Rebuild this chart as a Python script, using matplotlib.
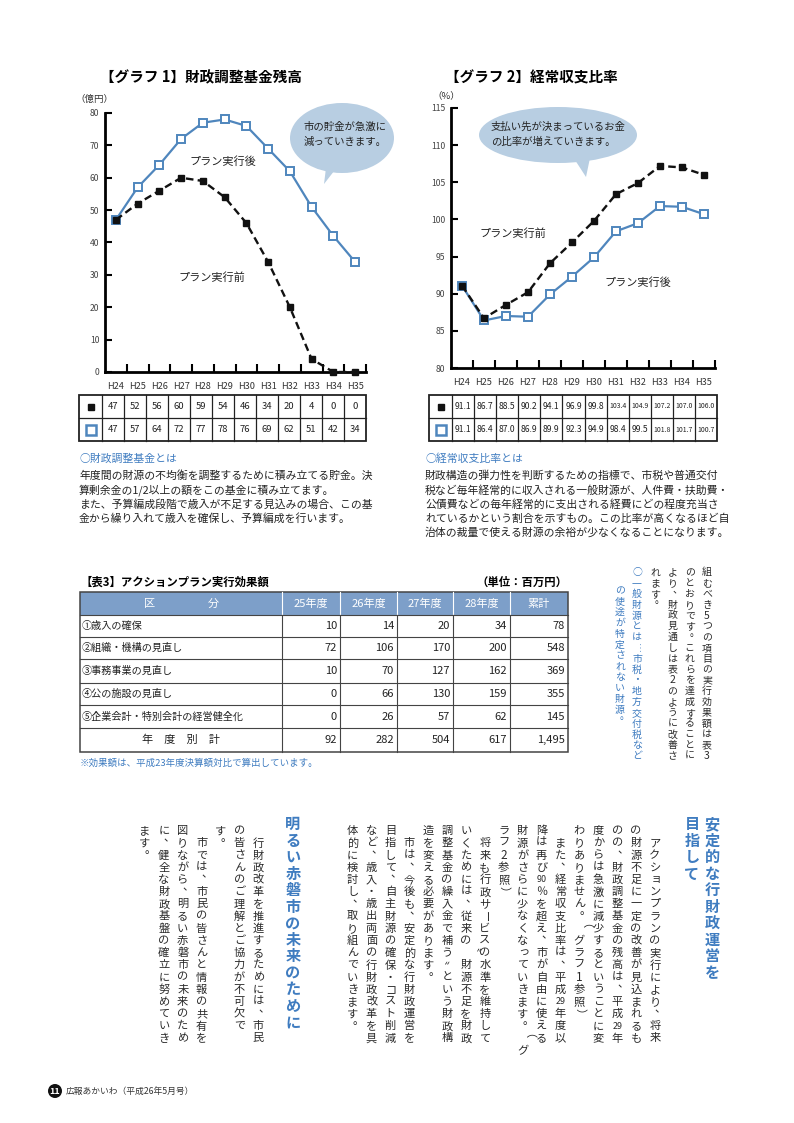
import numpy as np
import matplotlib.pyplot as plt
from matplotlib.patches import Ellipse, Polygon, Rectangle, Circle

plt.rcParams['font.family'] = ['Noto Sans CJK JP', 'DejaVu Sans']

W, H = 794, 1123
BLUE = '#4f86bd'
BLUE_TXT = '#3f7cc0'
BUBBLE = '#b8cee2'
HEAD = '#7d9fc9'

# ---- data ----
years = ['H24', 'H25', 'H26', 'H27', 'H28', 'H29', 'H30', 'H31', 'H32', 'H33', 'H34', 'H35']
fund_before = [47, 52, 56, 60, 59, 54, 46, 34, 20, 4, 0, 0]
fund_after = [47, 57, 64, 72, 77, 78, 76, 69, 62, 51, 42, 34]
ratio_before = [91.1, 86.7, 88.5, 90.2, 94.1, 96.9, 99.8, 103.4, 104.9, 107.2, 107.0, 106.0]
ratio_after = [91.1, 86.4, 87.0, 86.9, 89.9, 92.3, 94.9, 98.4, 99.5, 101.8, 101.7, 100.7]

t3_cats = ['①歳入の確保', '②組織・機構の見直し', '③事務事業の見直し',
           '④公の施設の見直し', '⑤企業会計・特別会計の経営健全化']
t3_years = ['25年度', '26年度', '27年度', '28年度']
t3_vals = [[10, 14, 20, 34],
           [72, 106, 170, 200],
           [10, 70, 127, 162],
           [0, 66, 130, 159],
           [0, 26, 57, 62]]

fund_note = ['年度間の財源の不均衡を調整するために積み立てる貯金。決',
             '算剰余金の1/2以上の額をこの基金に積み立てます。',
             'また、予算編成段階で歳入が不足する見込みの場合、この基',
             '金から繰り入れて歳入を確保し、予算編成を行います。']
ratio_note = ['財政構造の弾力性を判断するための指標で、市税や普通交付',
              '税など毎年経常的に収入される一般財源が、人件費・扶助費・',
              '公債費などの毎年経常的に支出される経費にどの程度充当さ',
              'れているかという割合を示すもの。この比率が高くなるほど自',
              '治体の裁量で使える財源の余裕が少なくなることになります。']

upper_cols = ['組むべき5つの項目の実行効果額は表3',
              'のとおりです。これらを達成することに',
              'より、財政見通しは表2のように改善さ',
              'れます。']
upper_blue = ['○一般財源とは…市税・地方交付税など',
              'の使途が特定されない財源。']

lower_cols1 = ['　アクションプランの実行により、将来',
               'の財源不足に一定の改善が見込まれるも',
               'のの、財政調整基金の残高は、平成29年',
               '度からは急激に減少するということに変',
               'わりありません。（グラフ1参照）',
               '　また、経常収支比率は、平成29年度以',
               '降は再び90％を超え、市が自由に使える',
               '財源がさらに少なくなっていきます。（グ',
               'ラフ2参照）',
               '　将来も行政サービスの水準を維持して',
               'いくためには、従来の〝財源不足を財政',
               '調整基金の繰入金で補う〟という財政構',
               '造を変える必要があります。',
               '　市は、今後も、安定的な行財政運営を',
               '目指して、自主財源の確保・コスト削減',
               'など、歳入・歳出両面の行財政改革を具',
               '体的に検討し、取り組んでいきます。']
lower_cols2 = ['　行財政改革を推進するためには、市民',
               'の皆さんのご理解とご協力が不可欠で',
               'す。',
               '　市では、市民の皆さんと情報の共有を',
               '図りながら、明るい赤磐市の未来のため',
               'に、健全な財政基盤の確立に努めていき',
               'ます。']

fig = plt.figure(figsize=(W / 100, H / 100), dpi=100)
page = fig.add_axes([0, 0, 1, 1])
page.set_xlim(0, W)
page.set_ylim(H, 0)
page.axis('off')


def px_axes(l, t, r, b):
    return fig.add_axes([l / W, 1 - b / H, (r - l) / W, (b - t) / H])


def draw_chart(ax, before, after, ylim, step):
    x = np.arange(len(years))
    ax.plot(x, after, color=BLUE, lw=1.6, marker='s', ms=6.2, mfc='white',
            mec=BLUE, mew=1.4, zorder=3, clip_on=False)
    ax.plot(x, before, color='#111', lw=1.7, ls=(0, (3.2, 1.8)), marker='s', ms=5,
            mfc='#111', mec='#111', zorder=4, clip_on=False)
    ax.set_xlim(-0.5, 11.5)
    ax.set_ylim(*ylim)
    ax.set_yticks(np.arange(ylim[0], ylim[1] + 1, step))
    ax.set_xticks(x)
    ax.set_xticklabels(years)
    ax.set_xticks(x + 0.5, minor=True)
    ax.tick_params(axis='x', which='major', length=0, pad=7, labelsize=6.6, labelcolor='#333')
    ax.tick_params(axis='x', which='minor', direction='in', length=6, width=1.5)
    ax.tick_params(axis='y', direction='in', length=5, width=1.5, labelsize=6.2,
                   pad=4, labelcolor='#444')
    for s in ['top', 'right']:
        ax.spines[s].set_visible(False)
    for s in ['left', 'bottom']:
        ax.spines[s].set_linewidth(2)
    ax.patch.set_visible(False)


def bubble(cx, cy, w, h, tail, lines, tx, ty):
    page.add_patch(Polygon(tail, closed=True, fc=BUBBLE, ec='none'))
    page.add_patch(Ellipse((cx, cy), w, h, fc=BUBBLE, ec='none'))
    for k, ln in enumerate(lines):
        page.text(tx, ty + k * 15, ln, fontsize=7.5, ha='left', va='center', color='#222')


def small_table(x0, xc, x1, rows, fmt):
    ys = [395, 418, 441]
    edges = np.linspace(xc, x1, len(years) + 1)
    page.add_patch(Rectangle((x0, ys[0]), x1 - x0, ys[2] - ys[0], fill=False, ec='#222', lw=1.3))
    page.plot([x0, x1], [ys[1], ys[1]], color='#222', lw=0.9)
    for e in edges[:-1]:
        page.plot([e, e], [ys[0], ys[2]], color='#222', lw=0.9)
    mx = (x0 + xc) / 2
    page.plot(mx, (ys[0] + ys[1]) / 2, marker='s', ms=5, color='#111')
    page.plot(mx, (ys[1] + ys[2]) / 2, marker='s', ms=6.5, mfc='white', mec=BLUE, mew=1.8)
    for r, vals in enumerate(rows):
        yc = (ys[r] + ys[r + 1]) / 2
        for i, v in enumerate(vals):
            s, fs = fmt(v)
            page.text((edges[i] + edges[i + 1]) / 2, yc, s, ha='center', va='center',
                      fontsize=fs, color='#222')


# ---- graph 1 ----
page.text(100, 77, '【グラフ 1】財政調整基金残高', fontsize=10.5, fontweight='bold', va='center')
page.text(75, 99, '（億円）', fontsize=6.8, va='center', ha='left', color='#333')
bubble(342, 138, 104, 70, [(326, 168), (338, 166), (324, 184)],
       ['市の貯金が急激に', '減っていきます。'], 304, 127)
ax1 = px_axes(105, 113, 366, 372)
draw_chart(ax1, fund_before, fund_after, (0, 80), 10)
page.text(223, 162, 'プラン実行後', fontsize=8, ha='center', va='center', color='#222')
page.text(212, 278, 'プラン実行前', fontsize=8, ha='center', va='center', color='#222')
small_table(79, 102, 366, [fund_before, fund_after], lambda v: (f'{v}', 6.8))

# ---- graph 2 ----
page.text(445, 77, '【グラフ 2】経常収支比率', fontsize=10.5, fontweight='bold', va='center')
page.text(432, 96, '（%）', fontsize=6.8, va='center', ha='left', color='#333')
bubble(558, 135, 158, 56, [(575, 160), (590, 158), (586, 177)],
       ['支払い先が決まっているお金', 'の比率が増えていきます。'], 491, 127)
ax2 = px_axes(451, 108, 715, 368)
draw_chart(ax2, ratio_before, ratio_after, (80, 115), 5)
page.text(513, 234, 'プラン実行前', fontsize=8, ha='center', va='center', color='#222')
page.text(638, 283, 'プラン実行後', fontsize=8, ha='center', va='center', color='#222')
small_table(429, 452, 717, [ratio_before, ratio_after],
            lambda v: (f'{v:.1f}', 5.0 if v >= 100 else 6.2))

# ---- notes ----
page.text(79, 459, '○財政調整基金とは', fontsize=7.8, color=BLUE_TXT, va='center')
for k, ln in enumerate(fund_note):
    page.text(79, 476 + k * 14.2, ln, fontsize=7.8, va='center', color='#222')
page.text(425, 459, '○経常収支比率とは', fontsize=7.8, color=BLUE_TXT, va='center')
for k, ln in enumerate(ratio_note):
    page.text(425, 476 + k * 14.2, ln, fontsize=7.8, va='center', color='#222')

# ---- table 3 ----
page.text(80, 582, '【表3】アクションプラン実行効果額', fontsize=8.2, fontweight='bold', va='center')
page.text(568, 582, '（単位：百万円）', fontsize=8.2, fontweight='bold', va='center', ha='right')
cx = [80, 282, 340, 397, 453, 510, 568]
ry = [592, 615, 637, 659, 683, 705, 728, 752]
page.add_patch(Rectangle((cx[0], ry[0]), cx[-1] - cx[0], ry[1] - ry[0], fc=HEAD, ec='none'))
page.text(150, (ry[0] + ry[1]) / 2, '区', color='white', fontsize=8, ha='center', va='center')
page.text(213, (ry[0] + ry[1]) / 2, '分', color='white', fontsize=8, ha='center', va='center')
for j, lab in enumerate(t3_years + ['累計']):
    page.text((cx[j + 1] + cx[j + 2]) / 2, (ry[0] + ry[1]) / 2, lab, color='white',
              fontsize=8, ha='center', va='center')
for e in cx[1:-1]:
    page.plot([e, e], [ry[0], ry[1]], color='white', lw=0.8)
    page.plot([e, e], [ry[1], ry[-1]], color='#444', lw=0.8)
for yy in ry[1:-1]:
    page.plot([cx[0], cx[-1]], [yy, yy], color='#444', lw=0.8)
page.add_patch(Rectangle((cx[0], ry[0]), cx[-1] - cx[0], ry[-1] - ry[0], fill=False, ec='#444', lw=1.1))

rows = [vals + [sum(vals)] for vals in t3_vals]
totals = [sum(c) for c in zip(*rows)]
for r, (cat, vals) in enumerate(zip(t3_cats, rows)):
    yc = (ry[r + 1] + ry[r + 2]) / 2
    page.text(82, yc, cat, fontsize=7.3, va='center', color='#222')
    for j, v in enumerate(vals):
        page.text(cx[j + 2] - 3, yc, f'{v:,}', fontsize=8, ha='right', va='center', color='#222')
yc = (ry[-2] + ry[-1]) / 2
page.text(181, yc, '年　度　別　計', fontsize=8, ha='center', va='center', color='#222')
for j, v in enumerate(totals):
    page.text(cx[j + 2] - 3, yc, f'{v:,}', fontsize=8, ha='right', va='center', color='#222')
page.text(80, 763, '※効果額は、平成23年度決算額対比で算出しています。', fontsize=6.8,
          color=BLUE_TXT, va='center')

# ---- vertical text ----
SMALL = set('ぁぃぅぇぉっゃゅょゎァィゥェォッャュョヮ')
ROT = set('ー…（）〝〟「」－')
PUNCT = set('、。')


def cells(s):
    out, i = [], 0
    while i < len(s):
        if s[i].isascii() and s[i].isdigit() and i + 1 < len(s) and s[i + 1].isdigit():
            out.append(s[i:i + 2])
            i += 2
        else:
            out.append(s[i])
            i += 1
    return out


def vtext(x, top, s, pitch, color='#2a2a2a', weight='normal', start=0.0):
    fs = pitch * 0.72 * 0.92
    for k, c in enumerate(cells(s)):
        y = top + (k + start + 0.5) * pitch
        dx = dy = 0.0
        rot = 0
        size = fs
        if c in PUNCT:
            dx, dy = 0.45 * pitch, -0.42 * pitch
        elif c in SMALL:
            dx, dy = 0.08 * pitch, -0.08 * pitch
        elif c in ROT:
            rot = -90
        if len(c) == 2:
            size = fs * 0.8
        elif c.isascii() and c.isdigit():
            size = fs * 1.05
        page.text(x + dx, y + dy, c, fontsize=size, ha='center', va='center',
                  rotation=rot, color=color, fontweight=weight)


for k, s in enumerate(upper_cols):
    vtext(707 - k * 17.3, 567, s, 10.8)
vtext(637, 567, upper_blue[0], 10.8, color=BLUE_TXT)
vtext(620, 567, upper_blue[1], 10.8, color=BLUE_TXT, start=1.7)

vtext(712, 816, '安定的な行財政運営を', 16.5, color=BLUE_TXT, weight='bold')
vtext(692, 816, '目指して', 16.5, color=BLUE_TXT, weight='bold')
for k, s in enumerate(lower_cols1):
    vtext(655 - k * 18.9, 825, s, 12.2)
vtext(293, 816, '明るい赤磐市の未来のために', 16.5, color=BLUE_TXT, weight='bold')
for k, s in enumerate(lower_cols2):
    vtext(258.3 - k * 18.9, 825, s, 12.2)

# ---- footer ----
page.add_patch(Circle((55, 1091), 7, fc='#111', ec='none'))
page.text(55, 1091, '11', color='white', fontsize=6.5, fontweight='bold', ha='center', va='center')
page.text(66, 1091, '広報あかいわ（平成26年5月号）', fontsize=6.3, va='center', color='#333')

fig.savefig('out.png', dpi=100)
